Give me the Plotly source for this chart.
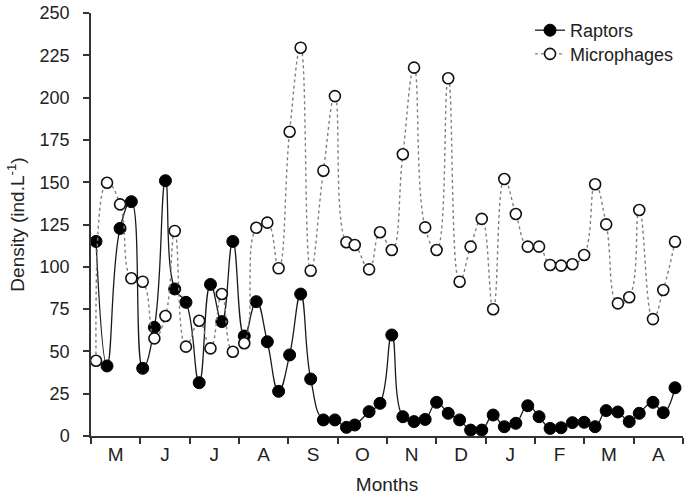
import plotly.graph_objects as go

# sampling positions, in months since the start of May
sample_pos = [0.102, 0.325, 0.589, 0.818, 1.048, 1.285, 1.509, 1.697, 1.925, 2.193,
              2.422, 2.652, 2.875, 3.107, 3.350, 3.574, 3.803, 4.026, 4.250, 4.453,
              4.711, 4.944, 5.178, 5.346, 5.637, 5.858, 6.097, 6.321, 6.548, 6.774,
              7.005, 7.241, 7.472, 7.695, 7.921, 8.152, 8.378, 8.611, 8.853, 9.082,
              9.306, 9.529, 9.758, 9.996, 10.219, 10.443, 10.680, 10.910, 11.113, 11.391,
              11.600, 11.838]

raptors = [115, 41.4, 122.7, 138.5, 40, 64.2, 150.9, 86.9, 79, 31.5,
           89.6, 67.6, 115, 59.1, 79.4, 55.7, 26.4, 47.9, 83.9, 33.7,
           9.5, 9.5, 5.1, 6.5, 14.4, 19.3, 59.7, 11.4, 8.5, 9.8,
           19.9, 13.4, 9.5, 3.5, 3.5, 12.4, 5.5, 7.5, 17.9, 11.4,
           4.5, 4.9, 7.9, 8.1, 5.5, 15, 14.2, 8.5, 13.4, 19.9,
           13.8, 28.5]

microphages = [44.5, 149.7, 136.9, 93.2, 91.2, 57.7, 70.9, 121.2, 52.8, 68.1,
               51.8, 83.9, 49.8, 54.8, 123.1, 126.1, 99.1, 179.8, 229.5, 97.7,
               156.8, 200.9, 114.5, 112.9, 98.5, 120.4, 109.9, 166.5, 217.7, 123.3,
               109.9, 211.4, 91.2, 111.9, 128.3, 74.9, 151.9, 131.2, 111.9, 111.9,
               101.1, 100.7, 101.5, 107, 148.8, 125.1, 78.4, 82, 133.6, 69.1,
               86.3, 114.8]

month_labels = ["M", "J", "J", "A", "S", "O", "N", "D", "J", "F", "M", "A"]
y_ticks = [0, 25, 50, 75, 100, 125, 150, 175, 200, 225, 250]

FONT = "Liberation Sans, Arial, sans-serif"
INK = "#222222"
AX = "#333333"

fig = go.Figure()
fig.add_trace(go.Scatter(
    x=sample_pos, y=raptors, name="Raptors", mode="lines+markers",
    line=dict(color="#1a1a1a", width=1.3, shape="spline", smoothing=1.3),
    marker=dict(symbol="circle", size=12, color="#000000", line=dict(color="#000000", width=1)),
    cliponaxis=False, legend="legend",
))
fig.add_trace(go.Scatter(
    x=sample_pos, y=microphages, name="Microphages", mode="lines+markers",
    line=dict(color="#808080", width=1.4, dash="dot", shape="spline", smoothing=1.3),
    marker=dict(symbol="circle", size=11, color="#ffffff", line=dict(color="#111111", width=1.6)),
    cliponaxis=False, legend="legend2",
))

legend_style = dict(xanchor="left", yanchor="top", bgcolor="rgba(0,0,0,0)",
                    font=dict(size=18, color=INK))
fig.update_layout(
    width=685, height=497,
    margin=dict(l=91, r=2, t=13, b=61),
    paper_bgcolor="white", plot_bgcolor="white",
    font=dict(family=FONT, size=18, color=INK),
    showlegend=True,
    legend=dict(x=0.7416, y=1.0024, **legend_style),
    legend2=dict(x=0.7416, y=0.9463, **legend_style),
)
fig.update_xaxes(
    range=[0, 12], showgrid=False, zeroline=False,
    showline=True, linecolor=AX, linewidth=1.5,
    tickmode="array", tickvals=[i + 0.5 for i in range(12)], ticktext=month_labels,
    ticks="", tickfont=dict(size=19, color=INK),
    minor=dict(tickmode="array", tickvals=list(range(13)), ticks="outside",
               ticklen=6, tickwidth=1.5, tickcolor=AX, showgrid=False),
    title=dict(text="Months", font=dict(size=19, color=INK), standoff=14),
)
fig.update_yaxes(
    range=[0, 250], showgrid=False, zeroline=False,
    showline=True, linecolor=AX, linewidth=1.5,
    tickmode="array", tickvals=y_ticks,
    ticks="outside", ticklen=6, tickwidth=1.5, tickcolor=AX,
    ticklabelstandoff=10, ticklabeloverflow="allow", tickfont=dict(size=18, color=INK),
    title=dict(text="Density (ind.L<sup>-1</sup>)", font=dict(size=19, color=INK), standoff=10),
)

# remove the default 8px page margin so the figure fills the window exactly
fig.write_html("out.html", config={"displayModeBar": False},
               post_script="document.body.style.margin='0';")
